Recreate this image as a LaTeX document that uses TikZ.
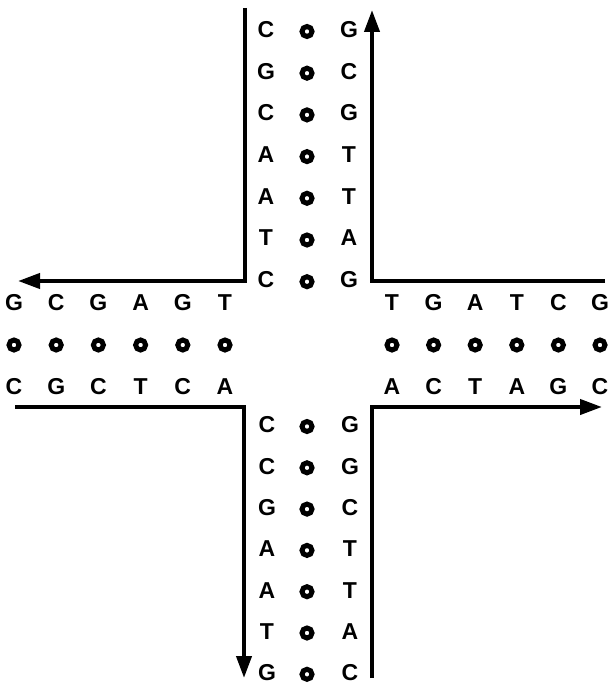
\documentclass[tikz,border=0pt]{standalone}
\usepackage{fontspec}
\setmainfont{Liberation Sans}
\usetikzlibrary{arrows.meta}
\tikzset{
  base/.style={font=\fontsize{23}{23}\selectfont\bfseries, inner sep=0pt, anchor=center},
  pair/.style={draw=black, line width=5pt, circle, minimum size=10pt, inner sep=0pt},
  strand/.style={line width=4pt, line join=miter},
  tip/.style={-{Triangle[length=22pt,width=15pt]}}
}
\begin{document}
\begin{tikzpicture}[x=1pt,y=-1pt]
\useasboundingbox (0,0) rectangle (609,685);
% top column
\foreach \l/\r [count=\i] in {C/G,G/C,C/G,A/T,A/T,T/A,C/G}{
  \pgfmathsetmacro{\yy}{29.5+41.7*(\i-1)}
  \pgfmathsetmacro{\yc}{\yy+2}
  \node[base] (tl\i) at (266,\yy) {\l};
  \node[pair] (tc\i) at (307,\yc) {};
  \node[base] (tr\i) at (349,\yy) {\r};
}
% bottom column
\foreach \l/\r [count=\i] in {C/G,C/G,G/C,A/T,A/T,T/A,G/C}{
  \pgfmathsetmacro{\yy}{425+41.3*(\i-1)}
  \pgfmathsetmacro{\yc}{\yy+1.5}
  \node[base] (bl\i) at (267,\yy) {\l};
  \node[pair] (bc\i) at (307,\yc) {};
  \node[base] (br\i) at (350,\yy) {\r};
}
% left arm
\foreach \t/\b [count=\i] in {G/C,C/G,G/C,A/T,G/C,T/A}{
  \pgfmathsetmacro{\xx}{14+42.2*(\i-1)}
  \node[base] (lt\i) at (\xx,303) {\t};
  \node[pair] (lc\i) at (\xx,345) {};
  \node[base] (lb\i) at (\xx,387) {\b};
}
% right arm
\foreach \t/\b [count=\i] in {T/A,G/C,A/T,T/A,C/G,G/C}{
  \pgfmathsetmacro{\xx}{392+41.6*(\i-1)}
  \node[base] (rt\i) at (\xx,303) {\t};
  \node[pair] (rc\i) at (\xx,345) {};
  \node[base] (rb\i) at (\xx,387) {\b};
}
% strand end points
\coordinate (a0) at (245,8);
\coordinate (a1) at (245,281);
\coordinate (a2) at (18,281);
\coordinate (b0) at (605,281);
\coordinate (b1) at (372,281);
\coordinate (b2) at (372,10);
\coordinate (c0) at (15,407);
\coordinate (c1) at (244,407);
\coordinate (c2) at (244,678);
\coordinate (d0) at (372,678);
\coordinate (d1) at (372,407);
\coordinate (d2) at (602,407);
\draw[strand,tip] (a0) -- (a1) -- (a2);
\draw[strand,tip] (b0) -- (b1) -- (b2);
\draw[strand,tip] (c0) -- (c1) -- (c2);
\draw[strand,tip] (d0) -- (d1) -- (d2);
\end{tikzpicture}
\end{document}
